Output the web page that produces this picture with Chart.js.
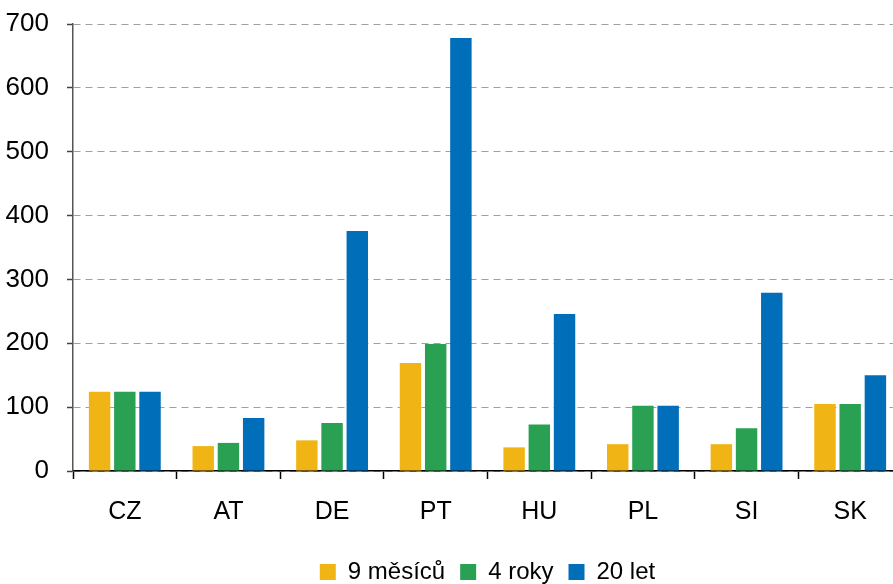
<!DOCTYPE html>
<html>
<head>
<meta charset="utf-8">
<script src="https://cdn.jsdelivr.net/npm/chart.js@4/dist/chart.umd.min.js"></script>
<style>
    html, body { margin: 0; padding: 0; background: #fff; overflow: hidden; }
    #wrap { width: 912px; height: 584px; }
</style>
</head>
<body>
<div id="wrap"><canvas id="chart"></canvas></div>
<script>
// data
const countries = ['CZ', 'AT', 'DE', 'PT', 'HU', 'PL', 'SI', 'SK'];
const months9 = [124, 39, 48, 169, 37, 42, 42, 105];
const years4 = [124, 44, 75, 199, 73, 102, 67, 105];
const years20 = [124, 83, 376, 678, 246, 102, 279, 150];
const seriesNames = ['9 měsíců', '4 roky', '20 let'];
const yTicks = [0, 100, 200, 300, 400, 500, 600, 700];

Chart.defaults.font.family = '"Liberation Sans", Arial, sans-serif';
Chart.defaults.color = '#000';

const ctx = document.getElementById('chart').getContext('2d');
new Chart(ctx, {
    type: 'bar',
    data: {
        labels: countries,
        datasets: [
            { label: seriesNames[0], data: months9, backgroundColor: '#f0b414' },
            { label: seriesNames[1], data: years4, backgroundColor: '#2aa152' },
            { label: seriesNames[2], data: years20, backgroundColor: '#006eb9' }
        ]
    },
    options: {
        responsive: true,
        maintainAspectRatio: false,
        animation: false,
        categoryPercentage: 0.73,
        barPercentage: 0.85,
        layout: { padding: { top: 24, right: 10, left: 0, bottom: -10 } },
        plugins: {
            tooltip: { enabled: false },
            legend: {
                position: 'bottom',
                fullSize: false,
                labels: {
                    boxWidth: 16,
                    boxHeight: 16,
                    padding: 15,
                    font: { size: 24 },
                    color: '#000'
                }
            }
        },
        scales: {
            x: {
                grid: {
                    display: true,
                    drawOnChartArea: false,
                    drawTicks: true,
                    tickLength: 8,
                    tickColor: '#000',
                    tickWidth: 1.5
                },
                border: { color: '#000', width: 1.5 },
                ticks: { font: { size: 25 }, padding: 18, color: '#000' }
            },
            y: {
                min: 0,
                max: 700,
                afterBuildTicks: axis => { axis.ticks = yTicks.map(v => ({ value: v })); },
                afterFit: axis => {
                    axis.paddingTop = 0;
                    axis.paddingBottom = 0;
                    axis.width = 73;
                },
                grid: {
                    color: '#a0a0a0',
                    lineWidth: 1,
                    tickLength: 6,
                    tickColor: '#444',
                    tickWidth: 1.5
                },
                border: { color: '#555', width: 1.5, dash: [7, 5] },
                ticks: { font: { size: 26 }, padding: 18, color: '#000' }
            }
        }
    }
});
</script>
</body>
</html>
